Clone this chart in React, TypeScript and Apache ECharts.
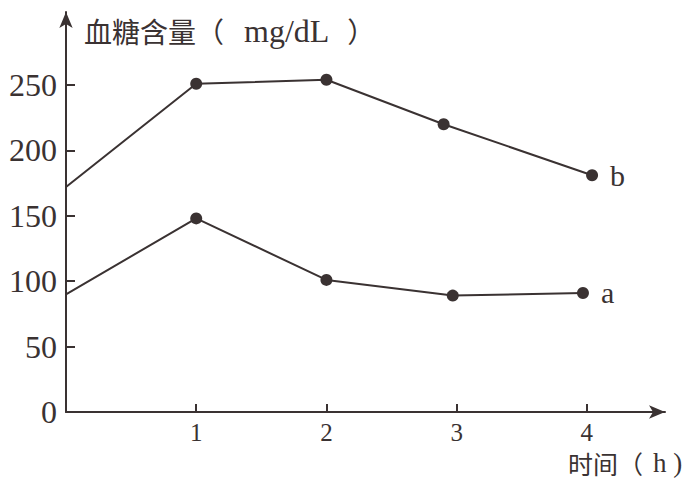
import React, { useEffect, useRef } from "react";
import * as echarts from "echarts";

const xTicks = [1, 2, 3, 4];
const yTicks = [0, 50, 100, 150, 200, 250];
const hoursA = [0, 1, 2, 2.97, 3.97];
const glucoseA = [90, 148, 101, 89, 91];
const hoursB = [0, 1, 2, 2.9, 4.04];
const glucoseB = [172, 251, 254, 220, 181];
const seriesNames = ["a", "b"];

const INK = "#3a3232";

function buildData(xs: number[], ys: number[], name: string) {
  return xs.map((x, i) => {
    const item: any = { value: [x, ys[i]] };
    if (i === 0) item.symbol = "none";
    if (i === xs.length - 1) {
      item.label = {
        show: true,
        position: "right",
        formatter: name,
        distance: 12,
        fontFamily: "Liberation Serif",
        fontSize: 30,
        color: INK,
      };
    }
    return item;
  });
}

export default function App() {
  const ref = useRef<HTMLDivElement>(null);
  useEffect(() => {
    const chart = echarts.init(ref.current!, null, { renderer: "svg" });
    const serif = "Liberation Serif";
    const cjk = '"Noto Sans CJK SC"';
    chart.setOption({
      animation: false,
      backgroundColor: "#ffffff",
      grid: { left: 66, right: 29, top: 12, bottom: 73, containLabel: false },
      xAxis: {
        type: "value",
        min: 0,
        max: 4.6,
        splitLine: { show: false },
        axisLine: {
          show: true,
          symbol: ["none", "arrow"],
          symbolSize: [10, 16],
          lineStyle: { color: INK, width: 2 },
        },
        axisTick: {
          show: true,
          inside: true,
          length: 8,
          customValues: xTicks,
          lineStyle: { color: INK, width: 2 },
        },
        axisLabel: {
          show: true,
          customValues: xTicks,
          margin: 8,
          fontFamily: serif,
          fontSize: 25,
          color: INK,
        },
      },
      yAxis: {
        type: "value",
        min: 0,
        max: 305.8,
        splitLine: { show: false },
        axisLine: {
          show: true,
          symbol: ["none", "arrow"],
          symbolSize: [10, 16],
          lineStyle: { color: INK, width: 2 },
        },
        axisTick: {
          show: true,
          inside: true,
          length: 9,
          customValues: yTicks,
          lineStyle: { color: INK, width: 2 },
        },
        axisLabel: {
          show: true,
          customValues: yTicks,
          margin: 9,
          fontFamily: serif,
          fontSize: 32,
          color: INK,
        },
      },
      series: [
        {
          name: seriesNames[0],
          type: "line",
          data: buildData(hoursA, glucoseA, seriesNames[0]),
          symbol: "circle",
          symbolSize: 12,
          itemStyle: { color: INK },
          lineStyle: { color: INK, width: 2 },
        },
        {
          name: seriesNames[1],
          type: "line",
          data: buildData(hoursB, glucoseB, seriesNames[1]),
          symbol: "circle",
          symbolSize: 12,
          itemStyle: { color: INK },
          lineStyle: { color: INK, width: 2 },
        },
      ],
      graphic: [
        {
          type: "text",
          left: 84,
          top: 15,
          style: {
            text: "{c|血糖含量（}{l|mg/dL}{c|）}",
            fill: INK,
            rich: {
              c: { fontFamily: cjk, fontSize: 28, color: INK },
              l: {
                fontFamily: serif,
                fontSize: 32,
                color: INK,
                padding: [0, 18, 0, 20],
              },
            },
          },
        },
        {
          type: "text",
          left: 568,
          top: 449,
          style: {
            text: "{c|时间（}{l|h )}",
            fill: INK,
            rich: {
              c: { fontFamily: cjk, fontSize: 25, color: INK },
              l: {
                fontFamily: serif,
                fontSize: 27,
                color: INK,
                padding: [0, 0, 0, 10],
              },
            },
          },
        },
      ],
    });
    return () => chart.dispose();
  }, []);
  return (
    <div
      ref={ref}
      style={{ position: "absolute", left: 0, top: 0, width: 694, height: 485 }}
    />
  );
}
